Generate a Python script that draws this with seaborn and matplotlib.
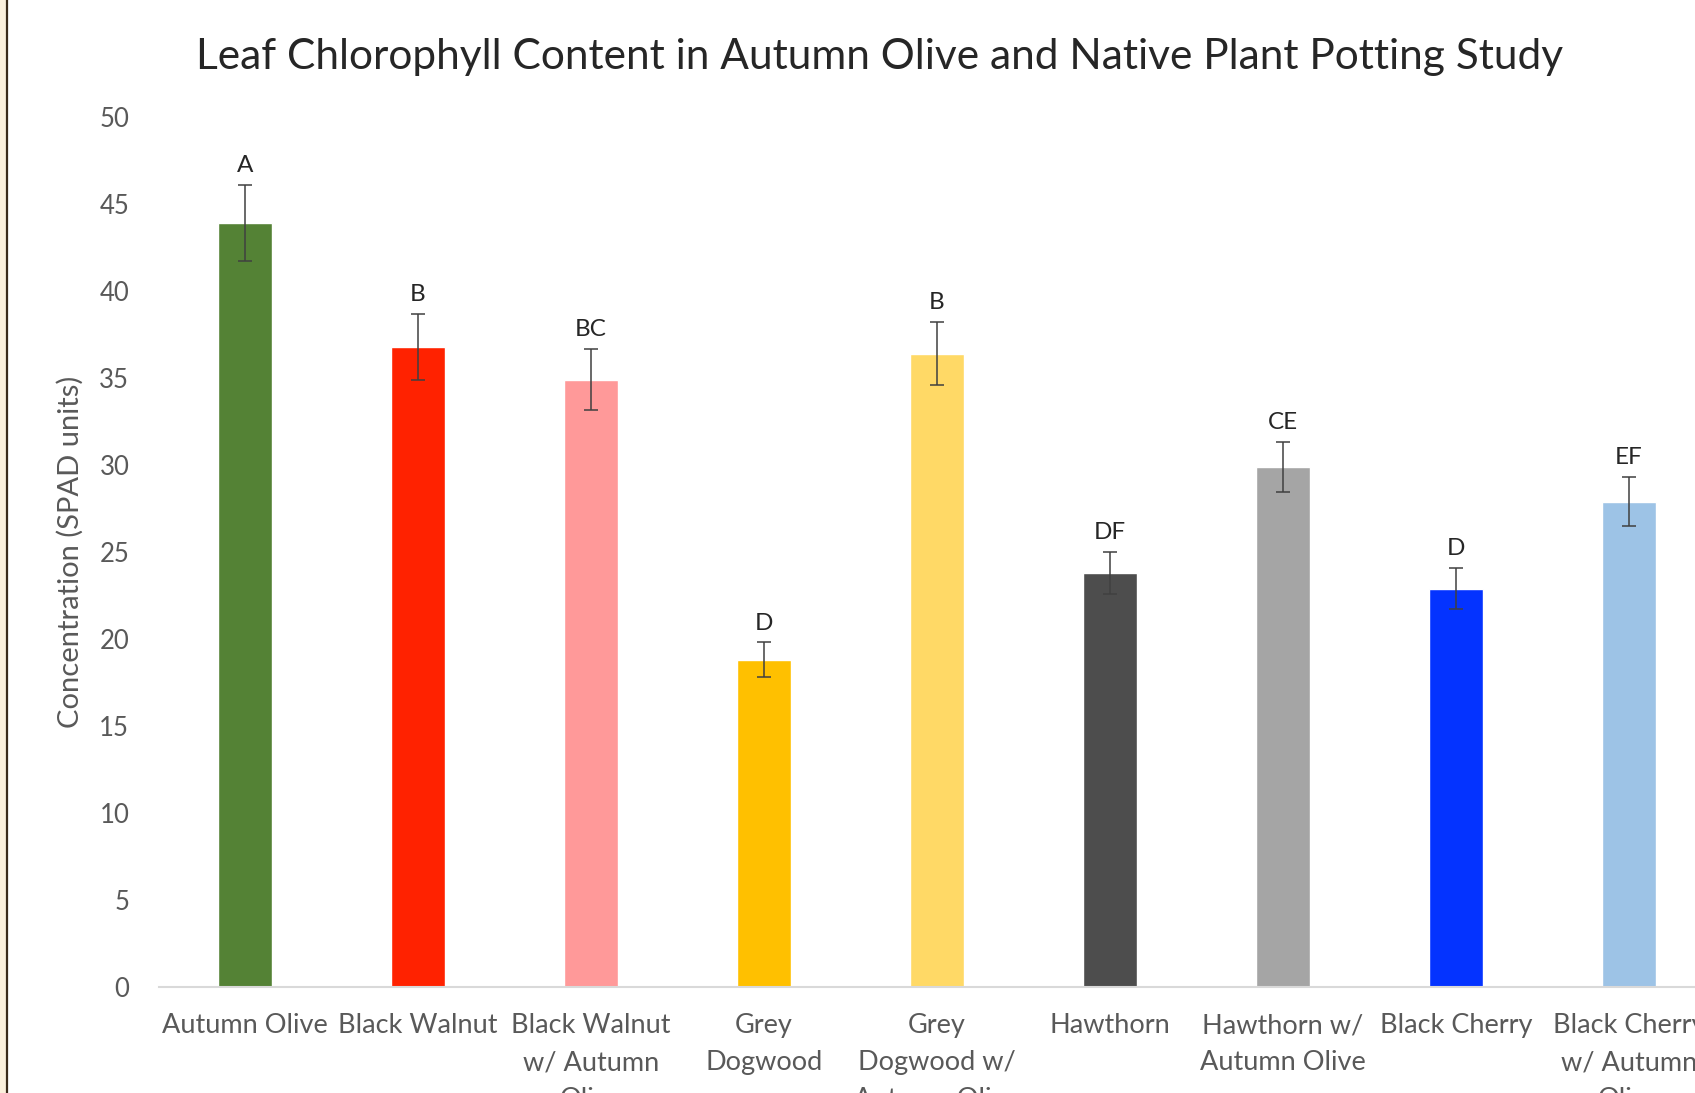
import matplotlib
matplotlib.use("Agg")
import matplotlib.pyplot as plt
import seaborn as sns
import pandas as pd
from matplotlib.patches import Rectangle
from matplotlib.lines import Line2D

categories = ["Autumn Olive", "Black Walnut", "Black Walnut\nw/ Autumn\nOlive",
              "Grey\nDogwood", "Grey\nDogwood w/\nAutumn Olive", "Hawthorn",
              "Hawthorn w/\nAutumn Olive", "Black Cherry", "Black Cherry\nw/ Autumn\nOlive"]
values = [43.9, 36.8, 34.9, 18.8, 36.4, 23.8, 29.9, 22.9, 27.9]
errors = [2.2, 1.9, 1.75, 1.0, 1.8, 1.2, 1.45, 1.2, 1.4]
letters = ["A", "B", "BC", "D", "B", "DF", "CE", "D", "EF"]
colors = ["#548235", "#FF2200", "#FF9999", "#FFC000", "#FFD966",
          "#4D4D4D", "#A5A5A5", "#0433FF", "#9DC3E6"]
yticks = [0, 5, 10, 15, 20, 25, 30, 35, 40, 45, 50]

sns.set_theme(style="white")
plt.rcParams['font.family'] = ['Lato', 'DejaVu Sans']

fig = plt.figure(figsize=(16.95, 10.93), dpi=100)
W, H = 1695, 1093
ax = fig.add_axes([158.5 / W, 1 - 987 / H, 173 * 9 / W, (987 - 117) / H])

df = pd.DataFrame({"cat": categories, "val": values})
sns.barplot(data=df, x="cat", y="val", hue="cat", palette=colors, legend=False,
            width=0.31, ax=ax, saturation=1)
ax.errorbar(range(len(values)), values, yerr=errors, fmt="none",
            ecolor="#404040", elinewidth=1.1, capsize=5, capthick=1.1)
for i, (v, e, l) in enumerate(zip(values, errors, letters)):
    ax.annotate(l, (i, v + e), xytext=(0, 14), textcoords="offset points",
                ha="center", va="center", fontsize=17.5, color="#262626")

ax.set_xlim(-0.5, len(values) - 0.5)
ax.set_ylim(0, 50)
ax.set_yticks(yticks)
ax.set_yticklabels([str(t) for t in yticks])
for s in ["top", "right", "left"]:
    ax.spines[s].set_visible(False)
ax.spines["bottom"].set_color("#D9D9D9")
ax.spines["bottom"].set_linewidth(1.5)
ax.tick_params(axis="y", length=0, pad=21, labelsize=18.5, labelcolor="#595959")
ax.tick_params(axis="x", length=0, pad=19, labelsize=19.5, labelcolor="#595959")
for t in ax.get_xticklabels():
    t.set_linespacing(1.6)
    t.set_va("top")
ax.set_xlabel("")
ax.set_ylabel("Concentration (SPAD units)", fontsize=21, color="#595959")
ax.yaxis.set_label_coords((84 - 158.5) / (173 * 9), 0.5)

fig.text(880 / W, 1 - 57 / H, "Leaf Chlorophyll Content in Autumn Olive and Native Plant Potting Study",
         ha="center", va="center", fontsize=30.5, color="#262626")

fig.patches.append(Rectangle((0, 0), 6 / W, 1, transform=fig.transFigure,
                             facecolor="#FBF0DC", edgecolor="none", zorder=5))
fig.lines.append(Line2D([6.5 / W, 6.5 / W], [0, 1], transform=fig.transFigure,
                        color="#3A2A1A", linewidth=1.6, zorder=6))

fig.savefig("out.png", dpi=100)
